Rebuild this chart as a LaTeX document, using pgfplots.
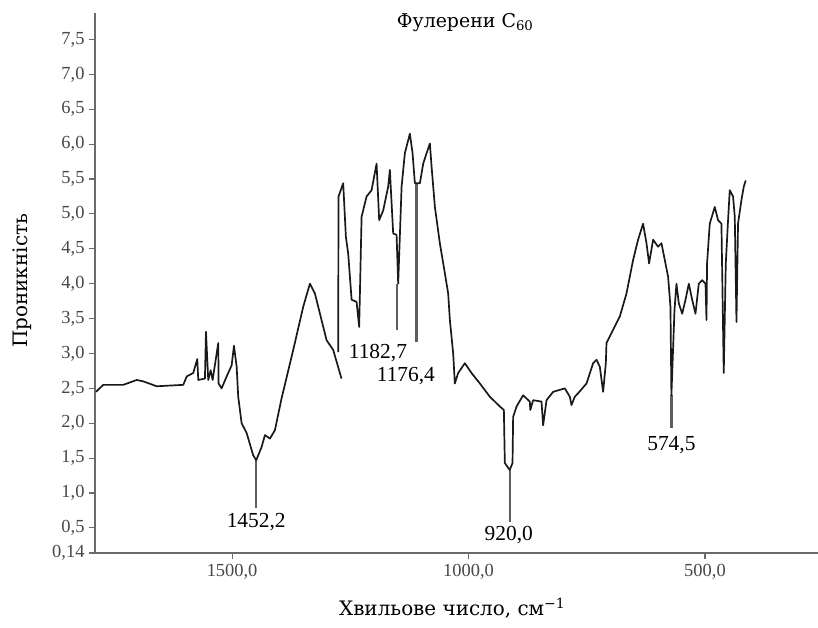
\documentclass[border=0pt]{standalone}
\usepackage{pgfplots}
\pgfplotsset{compat=1.18}
\usepackage{fontspec}
\setmainfont{Liberation Serif}
\newfontfamily\lblfont{DejaVu Serif}
\definecolor{axgray}{HTML}{6A6A6A}
\definecolor{anngray}{HTML}{5E5E5E}
\begin{document}
\begin{tikzpicture}
\useasboundingbox (-95bp,-75bp) rectangle (723bp,553bp);
\begin{axis}[
  at={(0,0)}, anchor=south west,
  scale only axis, width=723bp, height=540bp,
  x dir=reverse,
  xmin=261, xmax=1790, ymin=0.14, ymax=7.88,
  axis x line*=bottom, axis y line*=left,
  axis line style={axgray, line width=1.4pt, -},
  xtick={500,1000,1500}, xticklabels={{500,0},{1000,0},{1500,0}},
  ytick={0.14,0.5,1,1.5,2,2.5,3,3.5,4,4.5,5,5.5,6,6.5,7,7.5},
  yticklabels={{0,14},{0,5},{1,0},{1,5},{2,0},{2,5},{3,0},{3,5},{4,0},{4,5},{5,0},{5,5},{6,0},{6,5},{7,0},{7,5}},
  tick align=outside, major tick length=6bp,
  tick style={axgray, line width=1.1pt},
  ticklabel style={font=\fontsize{18.5}{21}\selectfont, text=black!72},
  yticklabel style={xshift=-1bp},
  xticklabel style={yshift=-2bp},
  xlabel={\lblfont\fontsize{20}{24}\selectfont Хвильове число, см\textsuperscript{−1}},
  xlabel style={at={(axis description cs:0.494,-0.102)}, anchor=center},
  ylabel={\lblfont\fontsize{20}{24}\selectfont Проникність},
  ylabel style={at={(axis description cs:-0.101,0.504)}, anchor=center, rotate=0},
  unbounded coords=jump,
  clip=false,
]
% annotation lines
\addplot[anngray, line width=2.3pt] coordinates {(1449,1.47) (1449,0.79)};
\addplot[anngray, line width=2.3pt] coordinates {(1152,4.00) (1152,3.34)};
\addplot[anngray, line width=2.3pt] coordinates {(1110,5.44) (1110,3.17)};
\addplot[anngray, line width=2.3pt] coordinates {(913,1.33) (913,0.59)};
\addplot[anngray, line width=2.3pt] coordinates {(571,2.40) (571,1.93)};
% spectrum
\addplot[black!90, line width=1.7pt, line join=round] coordinates {
(1788,2.45) (1772.5,2.55) (1758.3,2.55) (1730.2,2.55) (1701.8,2.62) (1687.9,2.60)
(1659.6,2.53) (1603.3,2.55) (1596.1,2.67) (1582.2,2.72) (1573.7,2.92) (1571.6,2.62)
(1557.5,2.64) (1555.3,3.31) (1550.5,2.62) (1545.4,2.76) (1541.2,2.62) (1529.3,3.15)
(1528.6,2.57) (1522.2,2.50) (1511.6,2.67) (1501.0,2.83) (1496.1,3.11) (1490.4,2.81)
(1487.1,2.38) (1479.9,2.00) (1469.3,1.86) (1455.4,1.54) (1449,1.47) (1437.6,1.66)
(1430.6,1.83) (1420.0,1.78) (1409.5,1.90) (1395.3,2.36) (1370.8,3.05) (1349.6,3.67)
(1335.5,4.00) (1324.9,3.86) (1314.3,3.57) (1300.2,3.19) (1286.2,3.05) (1268.7,2.64)
(1272,nan)
(1275.7,3.02) (1275.0,5.25) (1265.1,5.44) (1259.4,4.67) (1254.5,4.43) (1247.3,3.77)
(1236.8,3.74) (1231.3,3.38) (1226.2,4.96) (1215.6,5.25) (1205.1,5.34) (1194.5,5.72)
(1189.0,4.91) (1180.5,5.05) (1170.0,5.39) (1166.4,5.63) (1159.4,4.72) (1152.2,4.70)
(1148.8,4.00) (1141.6,5.39) (1134.7,5.87) (1124.1,6.15) (1118.4,5.87) (1113.5,5.44)
(1102.9,5.44) (1095.9,5.72) (1088.8,5.87) (1081.8,6.01) (1078.2,5.68) (1071.2,5.10)
(1060.7,4.58) (1050.1,4.15) (1043.1,3.86) (1039.5,3.48) (1032.5,3.00) (1029.0,2.57)
(1022.0,2.72) (1007.8,2.86) (993.7,2.72) (976.1,2.57) (955.0,2.38) (933.8,2.24)
(925.3,2.19) (923.3,1.43) (913,1.33) (907.0,1.43) (905.7,2.09) (898.5,2.24)
(884.6,2.40) (870.4,2.31) (869.4,2.19) (863.4,2.33) (845.7,2.31) (842.3,1.97)
(835.1,2.33) (821.1,2.45) (796.4,2.50) (785.8,2.38) (782.3,2.26) (775.3,2.38)
(768.3,2.43) (750.5,2.57) (736.6,2.86) (729.4,2.91) (722.4,2.81) (715.4,2.45)
(709.7,2.86) (708.3,3.15) (694.3,3.34) (680.1,3.53) (666.0,3.86) (652.0,4.34)
(641.5,4.63) (630.9,4.86) (623.7,4.58) (618.2,4.29) (609.7,4.63) (599.2,4.53)
(592.0,4.58) (585.0,4.34) (578.0,4.10) (573.0,3.67) (571.0,2.40) (564.5,3.62)
(560.3,4.00) (555.4,3.72) (548.2,3.57) (541.2,3.77) (534.2,4.00) (527.1,3.77)
(520.1,3.57) (513.1,4.00) (505.9,4.05) (498.9,4.00) (496.8,3.48) (495.6,4.29)
(489.9,4.86) (479.3,5.10) (472.3,4.91) (465.2,4.86) (460.3,2.72) (456.0,4.29)
(451.2,4.91) (447.6,5.34) (440.6,5.25) (437.0,4.96) (433.4,3.45) (430.1,4.86)
(422.9,5.20) (418.0,5.39) (413.8,5.48)
};
% peak labels
\node[font=\fontsize{21.5}{24}\selectfont] at (axis cs:1449,0.59) {1452,2};
\node[font=\fontsize{21.5}{24}\selectfont] at (axis cs:1191.7,3.01) {1182,7};
\node[font=\fontsize{21.5}{24}\selectfont] at (axis cs:1132.5,2.67) {1176,4};
\node[font=\fontsize{21.5}{24}\selectfont] at (axis cs:914.8,0.40) {920,0};
\node[font=\fontsize{21.5}{24}\selectfont] at (axis cs:571,1.68) {574,5};
% title
\node[font=\lblfont\fontsize{19}{22}\selectfont] at (axis description cs:0.512,0.983) {Фулерени C\textsubscript{60}};
\end{axis}
\end{tikzpicture}
\end{document}
